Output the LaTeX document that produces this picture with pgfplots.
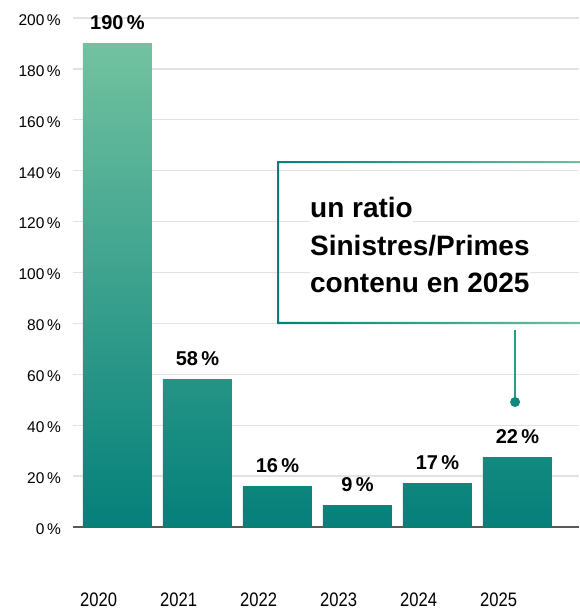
\documentclass[border=0pt]{standalone}
\usepackage{fontspec}
\setmainfont{Liberation Sans}
\newfontfamily\narrowfont[FakeStretch=0.85]{Liberation Sans}
\usepackage{pgfplots}
\pgfplotsset{compat=1.18}
\definecolor{tealdark}{HTML}{04807A}
\definecolor{greenlight}{HTML}{72C2A0}
\definecolor{gridgray}{HTML}{E2E2E2}
\definecolor{pointer}{HTML}{2A9A8A}
\definecolor{dotteal}{HTML}{0E8A80}

\begin{document}
\begin{tikzpicture}[x=1pt,y=1pt]
\useasboundingbox (0,0) rectangle (579,609);
\begin{axis}[
    at={(73pt,82pt)}, anchor=south west,
    width=506pt, height=509pt, scale only axis,
    xmin=-0.556, xmax=5.769, ymin=0, ymax=200,
    clip=false,
    axis line style={draw=none},
    major tick length=0pt,
    ytick={20,40,...,200},
    yticklabels={20\,\%,40\,\%,60\,\%,80\,\%,100\,\%,120\,\%,140\,\%,160\,\%,180\,\%,200\,\%},
    extra y ticks={0}, extra y tick labels={0\,\%},
    extra y tick style={grid style={draw=black!65, line width=1.3pt}},
    ymajorgrids, grid style={draw=gridgray, line width=1.3pt},
    xtick={0,...,5}, xticklabels={2020,2021,2022,2023,2024,2025},
    xticklabel style={anchor=base west, inner sep=0pt, xshift=-37.5pt, yshift=-79pt,
        font=\narrowfont\fontsize{19.5}{22}\selectfont},
    yticklabel style={anchor=east, inner sep=0pt, xshift=-12pt, yshift=-2pt,
        font=\fontsize{15.5}{18}\selectfont},
    every node near coord/.append style={anchor=base, yshift=14pt, text=black,
        font=\bfseries\fontsize{20}{24}\selectfont},
]
\addplot[ybar, bar width=0.8625, bar shift=0pt, draw=none,
    top color=greenlight, bottom color=tealdark,
    nodes near coords={190\,\%}] coordinates {(0,190)};
\addplot[ybar, bar width=0.8625, bar shift=0pt, draw=none,
    top color=greenlight!30!tealdark, bottom color=tealdark,
    nodes near coords={58\,\%}] coordinates {(1,58)};
\addplot[ybar, bar width=0.8625, bar shift=0pt, draw=none,
    top color=greenlight!8!tealdark, bottom color=tealdark,
    nodes near coords={16\,\%}] coordinates {(2,16)};
\addplot[ybar, bar width=0.8625, bar shift=0pt, draw=none,
    top color=greenlight!5!tealdark, bottom color=tealdark,
    nodes near coords={9\,\%}] coordinates {(3,8.6)};
\addplot[ybar, bar width=0.8625, bar shift=0pt, draw=none,
    top color=greenlight!9!tealdark, bottom color=tealdark,
    nodes near coords={17\,\%}] coordinates {(4,17)};
\addplot[ybar, bar width=0.8625, bar shift=0pt, draw=none,
    top color=greenlight!14!tealdark, bottom color=tealdark,
    nodes near coords={22\,\%}] coordinates {(5,27.5)};

% annotation box with gradient frame
\path[even odd rule, left color=tealdark, right color=greenlight]
    (axis cs:1.994,143.8) rectangle (axis cs:5.906,79.76)
    (axis cs:2.019,143.0) rectangle (axis cs:5.881,80.55);
\begin{scope}[every node/.style={anchor=base west, fill=white, inner sep=0pt,
        font=\bfseries\fontsize{28}{38}\selectfont}]
\node at (axis cs:2.406,121.8) {\strut un ratio};
\node at (axis cs:2.406,106.5) {\strut Sinistres/Primes};
\node at (axis cs:2.406,92.3) {\strut contenu en 2025};
\end{scope}
\draw[pointer, line width=2pt] (axis cs:4.97,77.4) -- (axis cs:4.97,49.1);
\fill[dotteal] (axis cs:4.97,49.1) circle[radius=5pt];
\end{axis}
\end{tikzpicture}
\end{document}
